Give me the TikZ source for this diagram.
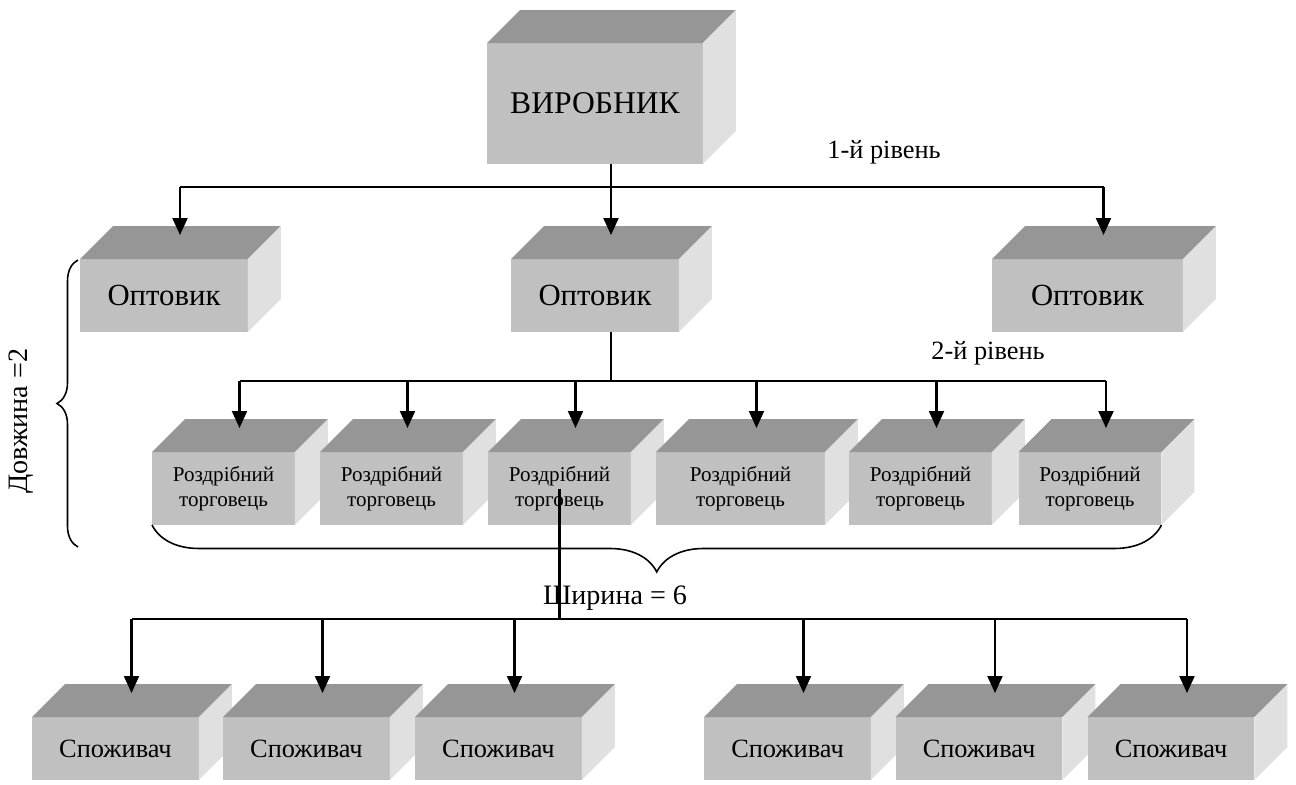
\documentclass[tikz,border=0pt]{standalone}
\usepackage{fontspec}
\setmainfont{Liberation Serif}
\definecolor{frontgray}{RGB}{192, 192, 192}
\definecolor{topgray}{RGB}{150, 150, 150}
\definecolor{sidegray}{RGB}{224, 224, 224}
\usepackage{tikz}
\usetikzlibrary{arrows.meta, calc, decorations.pathreplacing}

% top and right faces of a box, plus the point where an arrow lands
\newcommand{\boxfaces}[1]{%
  \fill[topgray] (#1.north west) -- ++(33,-33) -- ($(#1.north east)+(33,-33)$) -- (#1.north east) -- cycle;
  \fill[sidegray] (#1.north east) -- ++(33,-33) -- ($(#1.south east)+(33,-33)$) -- (#1.south east) -- cycle;
  \coordinate (#1-top) at ($(#1.north)+(16,-24)$);
}

\begin{document}
\begin{tikzpicture}[x=0.02cm, y=-0.02cm,
  front/.style={fill=frontgray, inner sep=0pt, outer sep=0pt, align=center},
  prodbox/.style={front, minimum width=4.32cm, minimum height=2.42cm, font=\fontsize{18}{21}\selectfont},
  whbox/.style={front, minimum width=3.36cm, minimum height=1.46cm, font=\fontsize{17.5}{20}\selectfont},
  retbox/.style={front, minimum width=2.86cm, minimum height=1.46cm, font=\fontsize{12}{14.2}\selectfont},
  conbox/.style={front, minimum width=3.34cm, minimum height=1.26cm, font=\fontsize{15}{18}\selectfont},
  link/.style={line width=1.2pt},
  arr/.style={link, -{Triangle[length=0.34cm, width=0.3cm]}},
  lbl/.style={font=\fontsize{15}{18}\selectfont},
  bracelbl/.style={font=\fontsize{16}{19}\selectfont}]
  \useasboundingbox (0,0) rectangle (1296,785);

  % Producer
  \node[prodbox] (vir) at (595,103.5) {ВИРОБНИК}; \boxfaces{vir}

  % Wholesalers
  \node[whbox] (opt1) at (164,295.5) {Оптовик}; \boxfaces{opt1}
  \node[whbox] (opt2) at (595,295.5) {Оптовик}; \boxfaces{opt2}
  \node[whbox, minimum width=3.82cm] (opt3) at (1087.5,295.5) {Оптовик}; \boxfaces{opt3}

  % Retailers
  \node[retbox] (r1) at (223.5,488.5) {Роздрібний\\торговець}; \boxfaces{r1}
  \node[retbox] (r2) at (391.5,488.5) {Роздрібний\\торговець}; \boxfaces{r2}
  \node[retbox] (r3) at (559.5,488.5) {Роздрібний\\торговець}; \boxfaces{r3}
  \node[retbox, minimum width=3.38cm] (r4) at (740.5,488.5) {Роздрібний\\торговець}; \boxfaces{r4}
  \node[retbox] (r5) at (920.5,488.5) {Роздрібний\\торговець}; \boxfaces{r5}
  \node[retbox] (r6) at (1090,488.5) {Роздрібний\\торговець}; \boxfaces{r6}

  % Consumers
  \node[conbox] (c1) at (115.5,748.5) {Споживач}; \boxfaces{c1}
  \node[conbox] (c2) at (306.5,748.5) {Споживач}; \boxfaces{c2}
  \node[conbox] (c3) at (498.5,748.5) {Споживач}; \boxfaces{c3}
  \node[conbox] (c4) at (787.5,748.5) {Споживач}; \boxfaces{c4}
  \node[conbox] (c5) at (979,748.5) {Споживач}; \boxfaces{c5}
  \node[conbox] (c6) at (1171,748.5) {Споживач}; \boxfaces{c6}

  % Level 1
  \coordinate (lvl1) at (0,187);
  \draw[arr] (vir.south -| opt2-top) -- (opt2-top);
  \draw[link] (lvl1 -| opt1-top) -- (lvl1 -| opt3-top);
  \draw[arr] (lvl1 -| opt1-top) -- (opt1-top);
  \draw[arr] (lvl1 -| opt3-top) -- (opt3-top);
  \node[lbl] (lv1) at (884,152) {1-й рівень};

  % Level 2
  \coordinate (lvl2) at (0,381);
  \draw[link] (opt2.south -| opt2-top) -- (lvl2 -| opt2-top);
  \draw[link] (lvl2 -| r1-top) -- (lvl2 -| r6-top);
  \foreach \i in {1,...,6}
    \draw[arr] (lvl2 -| r\i-top) -- (r\i-top);
  \node[lbl] (lv2) at (988,353) {2-й рівень};

  % Level 3
  \coordinate (lvl3) at (0,619);
  \draw[link] (r3.center) -- (lvl3 -| r3.center);
  \draw[link] (lvl3 -| c1-top) -- (lvl3 -| c6-top);
  \foreach \i in {1,...,6}
    \draw[arr] (lvl3 -| c\i-top) -- (c\i-top);

  % Braces
  \draw[decorate, decoration={brace, amplitude=0.94cm}, line width=0.9pt] (r6.south east) -- (r1.south west);
  \node[bracelbl] (wid) at (615,598) {Ширина = 6};
  \draw[decorate, decoration={brace, amplitude=0.42cm}, line width=0.9pt] (78,547) -- (78,260);
  \node[bracelbl, rotate=90] (len) at (21,421) {Довжина =2};
\end{tikzpicture}
\end{document}
